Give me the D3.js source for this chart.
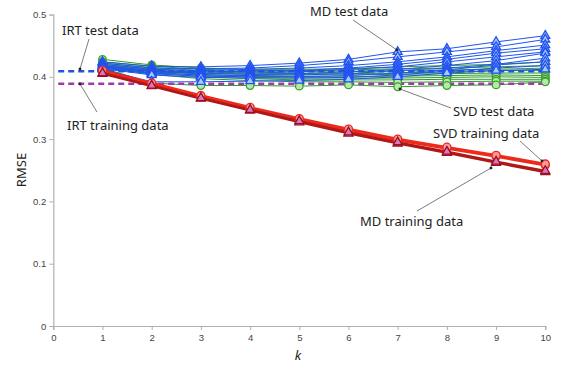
<!DOCTYPE html>
<html><head><meta charset="utf-8">
<script src="https://cdn.jsdelivr.net/npm/d3@7/dist/d3.min.js"></script>
<style>
body{margin:0;background:#fff;}
svg{display:block;font-family:"Noto Sans","Liberation Sans",sans-serif;}
</style></head>
<body><svg id="c" width="561" height="367"></svg>
<script>
const ks = [1,2,3,4,5,6,7,8,9,10];
const xTicks = [0,1,2,3,4,5,6,7,8,9,10];
const yTicks = [0,0.1,0.2,0.3,0.4,0.5];

const mdTest = [
 [.424,.417,.416,.418,.422,.428,.440,.445,.456,.466],
 [.422,.414,.413,.414,.418,.424,.432,.440,.448,.460],
 [.420,.412,.410,.412,.414,.418,.424,.432,.442,.451],
 [.418,.410,.408,.409,.410,.414,.420,.428,.438,.445],
 [.417,.409,.406,.406,.408,.412,.416,.424,.432,.440],
 [.416,.408,.405,.404,.405,.408,.412,.418,.426,.438],
 [.415,.406,.403,.402,.403,.405,.410,.414,.420,.430],
 [.414,.405,.401,.400,.400,.402,.406,.411,.419,.424],
 [.413,.403,.399,.398,.398,.399,.403,.409,.414,.418],
 [.412,.392,.392,.393,.394,.396,.400,.406,.410,.412]
];
const svdTest = [
 [.428,.419,.414,.412,.412,.413,.416,.418,.420,.424],
 [.424,.417,.412,.410,.410,.411,.413,.414,.416,.418],
 [.422,.415,.410,.408,.408,.408,.410,.411,.412,.414],
 [.420,.413,.408,.406,.405,.405,.406,.408,.410,.410],
 [.419,.411,.406,.404,.403,.403,.404,.405,.406,.406],
 [.418,.410,.404,.401,.400,.400,.401,.402,.403,.402],
 [.417,.408,.402,.399,.398,.398,.398,.399,.400,.399],
 [.416,.406,.400,.397,.395,.395,.395,.396,.396,.396],
 [.415,.404,.397,.394,.392,.392,.391,.392,.393,.393],
 [.414,.390,.386,.386,.385,.387,.384,.386,.387,.392]
];
const svdTrain = [
 [.408,.388,.368,.349,.331,.314,.298,.285,.272,.258],
 [.410,.390,.370,.351,.333,.316,.300,.287,.274,.260]
];
const mdTrain = [
 [.405,.385,.365,.346,.327,.309,.293,.278,.262,.247],
 [.406,.386,.366,.347,.329,.311,.295,.280,.264,.249]
];
const irtTest = 0.409;
const irtTrain = 0.389;

const svg = d3.select("#c");
const x = d3.scaleLinear().domain([0,10]).range([53.3,545.3]);
const y = d3.scaleLinear().domain([0,0.5]).range([326,14.5]);

// axes
const yAxis = d3.axisLeft(y).tickValues(yTicks).tickSize(4).tickFormat(d=>d===0?"0":d3.format(".1f")(d));
const xAxis = d3.axisBottom(x).tickValues(xTicks).tickSize(4).tickFormat(d3.format("d"));
const gy = svg.append("g").attr("transform","translate(53.3,0)").call(yAxis);
const gx = svg.append("g").attr("transform","translate(0,326)").call(xAxis);
[gx,gy].forEach(g=>{
  g.select(".domain").attr("stroke","#b0b0b0").attr("stroke-width",1.2);
  g.selectAll(".tick line").attr("stroke","#b0b0b0");
  g.selectAll(".tick text").attr("fill","#444").attr("font-size",9.5);
});
gy.selectAll(".tick text").attr("x",-7);
gx.selectAll(".tick text").attr("y",8);

svg.append("text").attr("transform","translate(26,170) rotate(-90)").attr("text-anchor","middle")
  .attr("font-size",13).attr("fill","#222").text("RMSE");
svg.append("text").attr("x",298).attr("y",360).attr("text-anchor","middle")
  .attr("font-size",13).attr("font-style","italic").attr("fill","#222").text("k");

const line = d3.line().x((d,i)=>x(ks[i])).y(d=>y(d));

// test lines
const lg = svg.append("g");
svdTest.forEach(s=>lg.append("path").attr("d",line(s)).attr("fill","none").attr("stroke","#2f9a2a").attr("stroke-width",1));
mdTest.forEach(s=>lg.append("path").attr("d",line(s)).attr("fill","none").attr("stroke","#1f55f0").attr("stroke-width",1));

// IRT dashed
svg.append("line").attr("x1",x(0.1)).attr("x2",x(10)).attr("y1",y(irtTest)).attr("y2",y(irtTest))
  .attr("stroke","#1f55e0").attr("stroke-width",2.5).attr("stroke-dasharray","6,4");
svg.append("line").attr("x1",x(0.1)).attr("x2",x(10)).attr("y1",y(irtTrain)).attr("y2",y(irtTrain))
  .attr("stroke","#a03aa8").attr("stroke-width",2.5).attr("stroke-dasharray","6,4");

const tri = d3.symbol().type(d3.symbolTriangle).size(34);
const mg = svg.append("g");
svdTest.forEach(s=>mg.selectAll(null).data(s).enter().append("circle")
  .attr("cx",(d,i)=>x(ks[i])).attr("cy",d=>y(d)).attr("r",3.8)
  .attr("fill","#b8e8a8").attr("stroke","#3aa030").attr("stroke-width",1.3));
mdTest.forEach(s=>mg.selectAll(null).data(s).enter().append("path")
  .attr("d",tri).attr("transform",(d,i)=>`translate(${x(ks[i])},${y(d)})`)
  .attr("fill","#a8c8ff").attr("stroke","#2050f0").attr("stroke-width",1.3));

// training lines
svdTrain.forEach(s=>svg.append("path").attr("d",line(s)).attr("fill","none").attr("stroke","#ee2a1a").attr("stroke-width",2.6));
mdTrain.forEach(s=>svg.append("path").attr("d",line(s)).attr("fill","none").attr("stroke","#b01818").attr("stroke-width",2.2));
svdTrain.forEach(s=>svg.selectAll(null).data(s).enter().append("circle")
  .attr("cx",(d,i)=>x(ks[i])).attr("cy",d=>y(d)).attr("r",4)
  .attr("fill","#ff9a9a").attr("stroke","#e82a20").attr("stroke-width",1.3));
mdTrain.forEach(s=>svg.selectAll(null).data(s).enter().append("path")
  .attr("d",tri).attr("transform",(d,i)=>`translate(${x(ks[i])},${y(d)})`)
  .attr("fill","#d878c0").attr("stroke","#9a1020").attr("stroke-width",1.3));

// annotations
const ann = [
 {t:"IRT test data", tx:62, ty:35, x1:89, y1:39, x2:80, y2:69},
 {t:"IRT training data", tx:67, ty:130, x1:97, y1:112, x2:80, y2:84},
 {t:"MD test data", tx:310, ty:16, x1:353, y1:20, x2:397, y2:50},
 {t:"SVD test data", tx:453, ty:116, x1:451, y1:108, x2:400, y2:89},
 {t:"SVD training data", tx:433, ty:138, x1:520, y1:141, x2:542, y2:161},
 {t:"MD training data", tx:360, ty:226, x1:417, y1:211, x2:491, y2:168}
];
ann.forEach(a=>{
  svg.append("text").attr("x",a.tx).attr("y",a.ty).attr("font-size",13).attr("fill","#222").text(a.t);
  svg.append("line").attr("x1",a.x1).attr("y1",a.y1).attr("x2",a.x2).attr("y2",a.y2)
    .attr("stroke","#444").attr("stroke-width",0.7);
  svg.append("circle").attr("cx",a.x2).attr("cy",a.y2).attr("r",1.4).attr("fill","#222");
});
</script></body></html>
